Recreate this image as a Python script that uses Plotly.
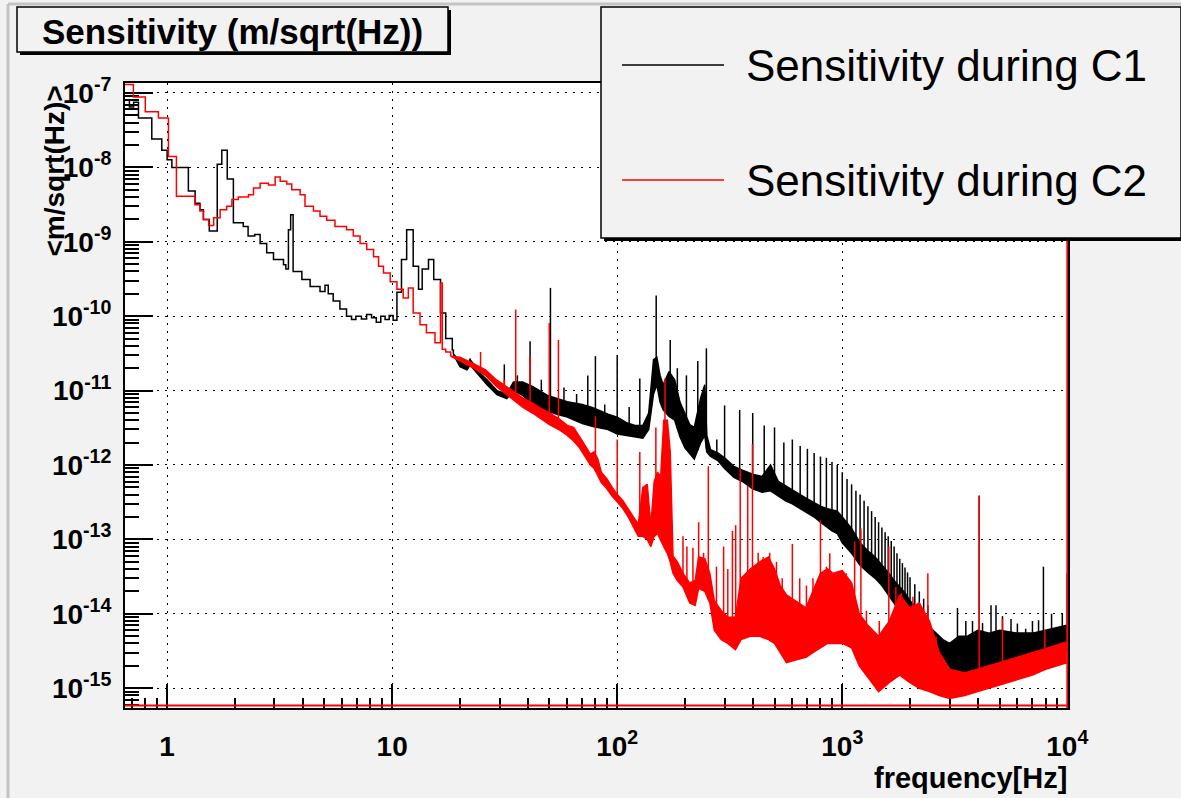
import numpy as np
import plotly.graph_objects as go

# ---------------- data ----------------
# C1 (black) : clean histogram steps at low frequency (Hz, m/sqrt(Hz))
c1_step_f = [0.65, 0.68, 0.71, 0.746, 0.855, 0.947, 1.0, 1.05, 1.243, 1.332,
             1.40, 1.45, 1.54, 1.67, 1.75, 1.85, 1.97, 2.18, 2.29, 2.45,
             2.59, 2.77, 2.97, 3.29, 3.37, 3.46, 3.54, 3.63, 3.97, 4.32,
             4.78, 5.03, 5.2, 5.47, 5.86, 6.27, 6.6, 6.9, 7.3, 7.7,
             8.1, 8.5, 8.9, 9.3, 9.7, 10.1, 10.5, 11.0, 11.6, 12.4,
             13.1, 13.6, 14.5, 15.3, 16.4, 17.3, 18.5]
c1_step_v = [8e-8, 6.5e-8, 7.5e-8, 4.6e-8, 2.4e-8, 1.7e-8, 1.27e-8, 1.0e-8, 4.8e-9, 3.3e-9,
             2.7e-9, 2.0e-9, 1.4e-9, 1.1e-8, 1.7e-8, 7e-9, 1.8e-9, 1.6e-9, 1.2e-9, 1.25e-9,
             9.5e-10, 7.1e-10, 5.8e-10, 4.9e-10, 4.3e-10, 1.45e-9, 2.3e-9, 4.0e-10, 3.1e-10, 2.5e-10,
             2.15e-10, 2.6e-10, 2.0e-10, 1.6e-10, 1.25e-10, 1.0e-10, 9.0e-11, 1.0e-10, 9.2e-11, 1.05e-10,
             9.5e-11, 8.3e-11, 1.0e-10, 9e-11, 1.02e-10, 8.8e-11, 2.1e-10, 5.8e-10, 1.45e-9, 4.7e-10,
             2.3e-10, 4.3e-10, 5.8e-10, 3.1e-10, 1.1e-10, 5e-11, 3.5e-11]

# C1 (black) : dense noisy region, lower / upper envelope of the band
c1_band_f = [18.7, 20, 21.5, 22.2, 23.5, 24.7, 26.4, 29.2, 32.3, 34.6,
             38, 42, 49, 54, 60, 70, 78, 91, 100, 110,
             120, 130, 138, 145, 150, 155, 160, 170, 180, 190,
             200, 210, 220, 235, 245, 250, 260, 280, 300, 330,
             360, 400, 440, 480, 520, 560, 600, 650, 700, 750,
             800, 850, 900, 950, 1000, 1100, 1200, 1300, 1400, 1500,
             1600, 1700, 1800, 1900, 2000, 2200, 2400, 2600, 2800, 3000,
             3300, 3600, 4000, 4500, 5000, 6000, 7000, 8000, 9000, 9950]
c1_band_lo = [3.1e-11, 2.1e-11, 1.9e-11, 2.2e-11, 1.8e-11, 1.5e-11, 1.2e-11, 8.8e-12, 7.8e-12, 1.0e-11,
              8.6e-12, 6.5e-12, 5.3e-12, 4.8e-12, 4.4e-12, 3.6e-12, 3.3e-12, 3.0e-12, 2.6e-12, 2.5e-12,
              2.4e-12, 2.3e-12, 3e-12, 9e-12, 1.2e-11, 7e-12, 5.5e-12, 4.5e-12, 4e-12, 2.4e-12,
              1.7e-12, 1.4e-12, 1.2e-12, 2e-12, 2.5e-12, 1.5e-12, 1.3e-12, 1.15e-12, 9e-13, 6.8e-13,
              6e-13, 4.8e-13, 4.3e-13, 4.5e-13, 3.8e-13, 3.3e-13, 3e-13, 2.6e-13, 2.3e-13, 2e-13,
              1.7e-13, 1.5e-13, 1.3e-13, 1.2e-13, 9e-14, 6.5e-14, 4.5e-14, 3.6e-14, 3e-14, 2.4e-14,
              1.8e-14, 1.4e-14, 1.1e-14, 8.5e-15, 7e-15, 5e-15, 3.4e-15, 2.6e-15, 2e-15, 1.5e-15,
              1.3e-15, 1.4e-15, 1.6e-15, 1.7e-15, 1.8e-15, 2.0e-15, 2.3e-15, 2.7e-15, 3e-15, 3.2e-15]
c1_band_hi = [3.1e-11, 2.5e-11, 2.1e-11, 2.6e-11, 2.1e-11, 1.7e-11, 1.4e-11, 1.0e-11, 9e-12, 1.3e-11,
              1.3e-11, 1.14e-11, 8.6e-12, 7.8e-12, 7.1e-12, 6.5e-12, 5.9e-12, 4.8e-12, 4.4e-12, 3.7e-12,
              3.4e-12, 3.4e-12, 5e-12, 2.6e-11, 2.8e-11, 1.6e-11, 1.2e-11, 1.8e-11, 1.4e-11, 7e-12,
              4.8e-12, 3.5e-12, 3.2e-12, 8e-12, 1.2e-11, 2.5e-12, 1.6e-12, 1.45e-12, 1.25e-12, 9.6e-13,
              8.5e-13, 7.5e-13, 7e-13, 1e-12, 6e-13, 5.2e-13, 4.6e-13, 4e-13, 3.5e-13, 3.1e-13,
              2.8e-13, 2.6e-13, 2.5e-13, 2.4e-13, 2e-13, 1.4e-13, 9e-14, 7e-14, 5.8e-14, 4.6e-14,
              3.6e-14, 2.8e-14, 2.3e-14, 1.9e-14, 1.5e-14, 1.1e-14, 7e-15, 5.5e-15, 4.5e-15, 4e-15,
              5e-15, 5e-15, 6e-15, 5.5e-15, 6e-15, 5.5e-15, 5.5e-15, 6e-15, 6.5e-15, 7e-15]

# C1 (black) : narrow lines (frequency, peak value)
c1_spike_f = [22.2, 31.5, 36, 41, 46, 50.5, 58, 66, 74, 80,
              88, 100, 113, 126, 149, 172, 185, 203, 228, 249,
              277, 300, 350, 400, 450, 500, 550, 600, 650,
              700, 750, 800, 850, 900, 950, 1000, 1050, 1100, 1150,
              1200, 1250, 1300, 1350, 1400, 1450, 1500, 1550, 1600, 1650,
              1700, 1750, 1800, 1850, 1900, 1950, 2000, 2100, 2200, 2300,
              2400, 3250, 3540, 3790, 4060, 4200, 4580, 4820, 5150, 5620,
              6000, 6530, 7000, 7450, 7830, 8510, 9200, 9500, 9990]
c1_spike_v = [2.7e-11, 2.25e-11, 1.6e-11, 4.6e-11, 1.4e-11, 2.4e-10, 1.1e-11, 9e-12, 1.6e-11, 2.9e-11,
              6.5e-12, 3.0e-11, 6e-12, 1.45e-11, 1.9e-10, 4.8e-11, 2e-11, 1.6e-11, 2.5e-11, 3.7e-11,
              2.2e-12, 6.3e-12, 5.5e-12, 5.0e-12, 3.4e-12, 3.2e-12, 2.0e-12, 2.2e-12, 1.8e-12,
              1.65e-12, 1.45e-12, 1.3e-12, 1.25e-12, 1.1e-12, 1.0e-12, 8e-13, 6.5e-13, 5.5e-13, 4.5e-13,
              4e-13, 3.3e-13, 2.8e-13, 2.4e-13, 2e-13, 1.7e-13, 1.45e-13, 1.25e-13, 1.1e-13, 9.5e-14,
              8e-14, 6.5e-14, 5.5e-14, 4.8e-14, 4.2e-14, 3.6e-14, 3.1e-14, 2.5e-14, 2e-14, 1.6e-14,
              1.3e-14, 1.2e-14, 8e-15, 8e-15, 3.9e-13, 7.5e-15, 1.3e-14, 1.3e-14, 9.3e-15, 8.5e-15,
              7.4e-15, 6.3e-15, 8e-15, 8.2e-15, 4.3e-14, 1e-14, 6.3e-15, 1e-14, 3.5e-14]

# C2 (red) : clean histogram steps at low frequency
c2_step_f = [0.65, 0.708, 0.80, 0.915, 1.014, 1.10, 1.33, 1.40, 1.45, 1.53,
             1.61, 1.72, 1.84, 1.94, 2.07, 2.30, 2.42, 2.59, 2.82, 3.02,
             3.18, 3.40, 3.58, 3.90, 4.1, 4.47, 4.78, 5.12, 5.57, 6.27,
             6.72, 7.2, 7.71, 8.27, 8.7, 9.15, 9.8, 10.5, 11.2, 11.8,
             12.4, 13.3, 14.2, 15.5, 16.4, 16.7, 17.3, 18.2]
c2_step_v = [1.3e-7, 8.8e-8, 5.6e-8, 4.6e-8, 1.4e-8, 4.1e-9, 3.15e-9, 2.6e-9, 2.0e-9, 1.65e-9,
             2.1e-9, 2.7e-9, 3.0e-9, 3.7e-9, 4.0e-9, 4.3e-9, 5.3e-9, 6.1e-9, 5.8e-9, 7.4e-9,
             6.5e-9, 6.0e-9, 5.0e-9, 4.3e-9, 3.0e-9, 2.6e-9, 2.2e-9, 1.95e-9, 1.6e-9, 1.45e-9,
             1.2e-9, 9.5e-10, 7.9e-10, 6.3e-10, 4.7e-10, 3.8e-10, 2.9e-10, 2.3e-10, 1.75e-10, 2.4e-10,
             1.1e-10, 7.7e-11, 6.0e-11, 4.4e-11, 2.8e-10, 3.6e-11, 3.3e-11, 2.9e-11]

# C2 (red) : dense noisy region, lower / upper envelope
c2_band_f = [18.2, 20, 23, 26, 29, 32, 35, 38, 42, 46,
             50, 55, 60, 64, 68, 72, 76, 79, 82, 85,
             90, 95, 100, 106, 112, 118, 124, 130, 136, 141,
             146, 151, 156, 161, 167, 172, 177, 185, 196, 210,
             222, 230, 245, 258, 270, 290, 310, 335, 355, 390,
             430, 470, 500, 530, 565, 620, 690, 740, 800, 860,
             910, 1000, 1100, 1190, 1300, 1450, 1620, 1800, 1990, 2200,
             2440, 2700, 3000, 3500, 4000, 5000, 6000, 7000, 8000, 9000,
             9950]
c2_band_lo = [2.9e-11, 2.5e-11, 2.0e-11, 1.6e-11, 1.15e-11, 9e-12, 7.2e-12, 6e-12, 5e-12, 4.2e-12,
              3.5e-12, 3e-12, 2.5e-12, 2.1e-12, 1.7e-12, 1.3e-12, 1.0e-12, 9e-13, 7e-13, 5.8e-13,
              4.8e-13, 3.8e-13, 3.2e-13, 2.6e-13, 2.0e-13, 1.5e-13, 1.1e-13, 1.1e-13, 1.0e-13, 8e-14,
              1.1e-13, 1.2e-13, 1.0e-13, 8e-14, 6.5e-14, 5e-14, 3.5e-14, 2.8e-14, 2.3e-14, 1.4e-14,
              1.3e-14, 2.2e-14, 2e-14, 1.4e-14, 6e-15, 4.5e-15, 4e-15, 3.3e-15, 4.5e-15, 5e-15,
              5e-15, 4.5e-15, 4e-15, 3e-15, 2.2e-15, 2.4e-15, 2.6e-15, 3e-15, 3.5e-15, 4e-15,
              4e-15, 4e-15, 3.5e-15, 2e-15, 1.4e-15, 9e-16, 1.2e-15, 1.5e-15, 1.2e-15, 1e-15,
              9e-16, 8e-16, 7.3e-16, 8e-16, 9e-16, 1.1e-15, 1.3e-15, 1.5e-15, 1.8e-15, 2e-15,
              2.2e-15]
c2_band_hi = [2.9e-11, 2.8e-11, 2.3e-11, 1.9e-11, 1.4e-11, 1.15e-11, 9.5e-12, 8e-12, 6.8e-12, 5.7e-12,
              5e-12, 4.2e-12, 3.4e-12, 3.2e-12, 2.4e-12, 1.8e-12, 1.4e-12, 1.5e-12, 1.2e-12, 8e-13,
              6.5e-13, 5e-13, 4e-13, 3.3e-13, 2.6e-13, 2.0e-13, 1.6e-13, 5e-13, 5.5e-13, 1.5e-13,
              6e-13, 8e-13, 7e-13, 4e-12, 4e-12, 1.5e-12, 6e-14, 5e-14, 3.5e-14, 2.6e-14,
              2.8e-14, 5.8e-14, 5.5e-14, 3.5e-14, 1.5e-14, 1.1e-14, 9e-15, 9e-15, 3e-14, 4e-14,
              5e-14, 5.8e-14, 4e-14, 2.4e-14, 1.8e-14, 1.5e-14, 1.2e-14, 2e-14, 3.5e-14, 4e-14,
              3.5e-14, 3.8e-14, 2.6e-14, 1e-14, 7e-15, 5e-15, 8e-15, 1.8e-14, 1.2e-14, 1.4e-14,
              8e-15, 3e-15, 1.8e-15, 1.6e-15, 1.8e-15, 2.2e-15, 2.6e-15, 3e-15, 3.4e-15, 3.8e-15,
              4.2e-15]

# C2 (red) : narrow lines
c2_spike_f = [24.7, 31.5, 35.4, 41, 49.9, 54.8, 80, 100, 126, 148.5,
              163, 196, 204, 217, 230, 242, 254, 276, 297, 310,
              325, 336, 352, 380, 399, 423, 445, 476, 510, 541,
              600, 647, 693, 741, 800, 850, 880, 940, 1040, 1135,
              1210, 1280, 1460, 1610, 1730, 1830, 1920, 2060, 2200, 2400,
              2610, 4060, 5150, 7950]
c2_spike_v = [3.3e-11, 1.4e-11, 1.23e-10, 2.9e-11, 8.1e-11, 4.8e-11, 4.5e-12, 2.2e-12, 1.5e-12, 3.2e-12,
              1.45e-11, 1.1e-13, 8e-14, 7.7e-14, 1.7e-13, 6.6e-14, 9.6e-13, 4.3e-14, 8e-14, 4e-14,
              1.3e-13, 1.55e-13, 9e-13, 5.2e-13, 1.9e-12, 6.6e-14, 5.8e-14, 6.6e-14, 5e-14, 3e-14,
              8.7e-14, 3e-14, 2.4e-14, 3e-14, 1.8e-13, 4.3e-14, 6.5e-14, 3.2e-14, 3.5e-14, 9.4e-14,
              1.4e-13, 1.1e-14, 8e-15, 8e-14, 2.3e-14, 1.9e-14, 1.4e-14, 1.7e-14, 1.3e-14, 3.5e-14,
              5e-15, 3.8e-13, 8.5e-15, 6e-15]

# C2 (red) : last bin (goes off scale at the right edge)
c2_last_f = 10000
c2_last_v = 1e-6

x_tick_vals = [1, 10, 100, 1000, 10000]
x_tick_text = ["1", "10", "10<sup>2</sup>", "10<sup>3</sup>", "10<sup>4</sup>"]
y_tick_exp = [-15, -14, -13, -12, -11, -10, -9, -8, -7]

# ---------------- styling / layout ----------------
FONT = "Liberation Sans, Arial, Helvetica, sans-serif"
BLACK = "#000000"
RED = "#ff0000"
CANVAS = "#f2f2f2"
W, H = 1181, 798
L, R, T, B = 125, 1068, 83, 708
X_RANGE = [float(np.log10(0.65)), 4.003]
Y_RANGE = [-15.266, -6.866]


def PX(x):
    return (x - L) / (R - L)


def PY(y):
    return (B - y) / (B - T)


def spikes(sf, sv, bf, blo):
    lf = np.log10(bf)
    llo = np.log10(blo)
    xs, ys = [], []
    for f, v in zip(sf, sv):
        base = 10 ** np.interp(np.log10(f), lf, llo)
        xs += [f, f, None]
        ys += [base, v, None]
    return xs, ys


fig = go.Figure()


def add_series(step_f, step_v, band_f, band_lo, band_hi, sp_f, sp_v, color, name):
    ln = dict(color=color, width=1.5)
    fig.add_trace(go.Scatter(x=band_f, y=band_hi, mode="lines", line=ln,
                             hoverinfo="skip", name=name))
    fig.add_trace(go.Scatter(x=band_f, y=band_lo, mode="lines", line=ln,
                             fill="tonexty", fillcolor=color, hoverinfo="skip", name=name))
    fig.add_trace(go.Scatter(x=list(step_f) + [band_f[0]], y=list(step_v) + [band_hi[0]],
                             mode="lines", line=dict(color=color, width=1.5, shape="hv"),
                             name=name))
    sx, sy = spikes(sp_f, sp_v, band_f, band_lo)
    fig.add_trace(go.Scatter(x=sx, y=sy, mode="lines", line=ln, hoverinfo="skip", name=name))


add_series(c1_step_f, c1_step_v, c1_band_f, c1_band_lo, c1_band_hi,
           c1_spike_f, c1_spike_v, BLACK, "Sensitivity during C1")
add_series(c2_step_f, c2_step_v, c2_band_f, c2_band_lo, c2_band_hi,
           c2_spike_f, c2_spike_v, RED, "Sensitivity during C2")
fig.add_trace(go.Scatter(x=[c2_last_f, c2_last_f], y=[10 ** Y_RANGE[0], c2_last_v],
                         mode="lines", line=dict(color=RED, width=2), name="Sensitivity during C2"))

tickfont = dict(family=FONT, size=28, color=BLACK, weight="bold")
grid = dict(showgrid=True, gridcolor=BLACK, gridwidth=1, griddash="2px,6px")

fig.update_xaxes(type="log", range=X_RANGE, tickmode="array", tickvals=x_tick_vals,
                 ticktext=x_tick_text, ticks="inside", ticklen=24, tickwidth=1.5,
                 tickcolor=BLACK, tickfont=tickfont, ticklabelstandoff=12,
                 showline=True, linecolor=BLACK, linewidth=2, mirror=True,
                 layer="below traces",
                 minor=dict(ticks="inside", ticklen=10, tickwidth=1.5, tickcolor=BLACK,
                            dtick="D1", showgrid=False),
                 **grid)
fig.update_yaxes(type="log", range=Y_RANGE, tickmode="array",
                 tickvals=[10.0 ** e for e in y_tick_exp],
                 ticktext=["10<sup>%d</sup>" % e for e in y_tick_exp],
                 ticks="inside", ticklen=28, tickwidth=1.5, tickcolor=BLACK,
                 tickfont=tickfont, ticklabelstandoff=6,
                 showline=True, linecolor=BLACK, linewidth=2, mirror=True,
                 layer="below traces",
                 minor=dict(ticks="inside", ticklen=14, tickwidth=1.5, tickcolor=BLACK,
                            dtick="D1", showgrid=False),
                 **grid)

shapes = []
# canvas bevel lines
shapes.append(dict(type="line", xref="paper", yref="paper", x0=PX(8), x1=PX(8),
                   y0=PY(4), y1=PY(H), line=dict(color="#c4c4c4", width=3), layer="above"))
shapes.append(dict(type="line", xref="paper", yref="paper", x0=PX(8), x1=PX(W),
                   y0=PY(4), y1=PY(4), line=dict(color="#c4c4c4", width=3), layer="above"))
# red histogram floor line
shapes.append(dict(type="line", xref="paper", yref="paper", x0=0, x1=PX(1067),
                   y0=PY(705.5), y1=PY(705.5), line=dict(color=RED, width=2), layer="above"))
# title box with shadow
shapes.append(dict(type="rect", xref="paper", yref="paper", x0=PX(20), x1=PX(451),
                   y0=PY(10), y1=PY(55), fillcolor=BLACK, line=dict(width=0), layer="above"))
shapes.append(dict(type="rect", xref="paper", yref="paper", x0=PX(17), x1=PX(448),
                   y0=PY(7), y1=PY(52), fillcolor=CANVAS, line=dict(color=BLACK, width=1.5),
                   layer="above"))
# legend box with shadow
shapes.append(dict(type="rect", xref="paper", yref="paper", x0=PX(604), x1=PX(1190),
                   y0=PY(10), y1=PY(241), fillcolor=BLACK, line=dict(width=0), layer="above"))
shapes.append(dict(type="rect", xref="paper", yref="paper", x0=PX(601), x1=PX(1181),
                   y0=PY(7), y1=PY(238), fillcolor=CANVAS, line=dict(color=BLACK, width=1.5),
                   layer="above"))
legend_entries = [("Sensitivity during C1", BLACK, 65), ("Sensitivity during C2", RED, 180)]
for _, col, yy in legend_entries:
    shapes.append(dict(type="line", xref="paper", yref="paper", x0=PX(622), x1=PX(724),
                       y0=PY(yy), y1=PY(yy), line=dict(color=col, width=1.5), layer="above"))

annotations = []
annotations.append(dict(text="Sensitivity (m/sqrt(Hz))", xref="paper", yref="paper",
                        x=PX(232), y=PY(31), xanchor="center", yanchor="middle", showarrow=False,
                        font=dict(family=FONT, size=35, color=BLACK, weight="bold")))
for txt, _, yy in legend_entries:
    annotations.append(dict(text=txt, xref="paper", yref="paper", x=PX(744), y=PY(yy),
                            xanchor="left", yanchor="middle", showarrow=False,
                            font=dict(family=FONT, size=44, color=BLACK)))
annotations.append(dict(text="frequency[Hz]", xref="paper", yref="paper", x=PX(1069), y=PY(778),
                        xanchor="right", yanchor="middle", showarrow=False,
                        font=dict(family=FONT, size=29, color=BLACK, weight="bold")))
annotations.append(dict(text="&lt;m/sqrt(Hz)&gt;", xref="paper", yref="paper", x=PX(54), y=PY(84),
                        xanchor="center", yanchor="top", textangle=-90, showarrow=False,
                        font=dict(family=FONT, size=28, color=BLACK, weight="bold")))

fig.update_layout(width=W, height=H, margin=dict(l=L, r=W - R, t=T, b=H - B, pad=0),
                  paper_bgcolor=CANVAS, plot_bgcolor="#ffffff", showlegend=False,
                  shapes=shapes, annotations=annotations,
                  font=dict(family=FONT, color=BLACK))

fig.write_html("out.html")
